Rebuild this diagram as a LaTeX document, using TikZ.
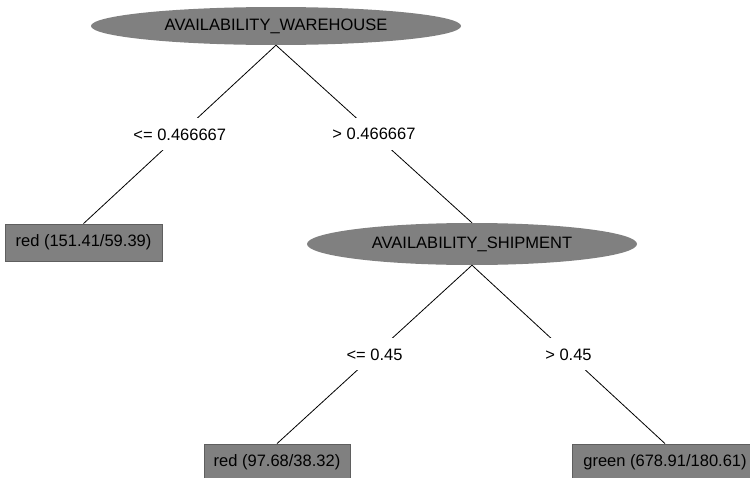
\documentclass[tikz,border=0pt]{standalone}
\usepackage{fontspec}
\setmainfont{Liberation Sans}
\usetikzlibrary{shapes.geometric}
\definecolor{nodegray}{RGB}{128,128,128}
\definecolor{edgegray}{RGB}{95,95,95}
\begin{document}
\begin{tikzpicture}[x=1pt,y=-1pt,
  every node/.style={font=\fontsize{16.5}{18}\selectfont, text=black},
  splitnode/.style={ellipse, fill=nodegray, inner sep=0pt},
  leafnode/.style={rectangle, fill=nodegray, draw=edgegray, line width=0.8pt, inner sep=0pt, minimum height=37pt},
  edgelabel/.style={fill=white, inner xsep=2pt, inner ysep=0pt, minimum height=32pt},
  conn/.style={draw=black, line width=0.8pt}]
\useasboundingbox[fill=white] (0,0) rectangle (750,477);
\node[splitnode, minimum width=370pt, minimum height=38pt] (aw) at (276,26) {AVAILABILITY\_WAREHOUSE};
\node[leafnode, minimum width=157pt] (l1) at (83.5,242.5) {red (151.41/59.39)};
\node[splitnode, minimum width=330pt, minimum height=42pt] (as) at (472,244) {AVAILABILITY\_SHIPMENT};
\node[leafnode, minimum width=146pt] (l2) at (277,462.5) {red (97.68/38.32)};
\node[leafnode, minimum width=186pt] (l3) at (665,462.5) {green (678.91/180.61)};
\draw[conn] (aw.south) -- node[edgelabel] {<= 0.466667} (l1.north);
\draw[conn] (aw.south) -- node[edgelabel] {> 0.466667} (as.north);
\draw[conn] (as.south) -- node[edgelabel] {<= 0.45} (l2.north);
\draw[conn] (as.south) -- node[edgelabel] {> 0.45} (l3.north);
\end{tikzpicture}
\end{document}
